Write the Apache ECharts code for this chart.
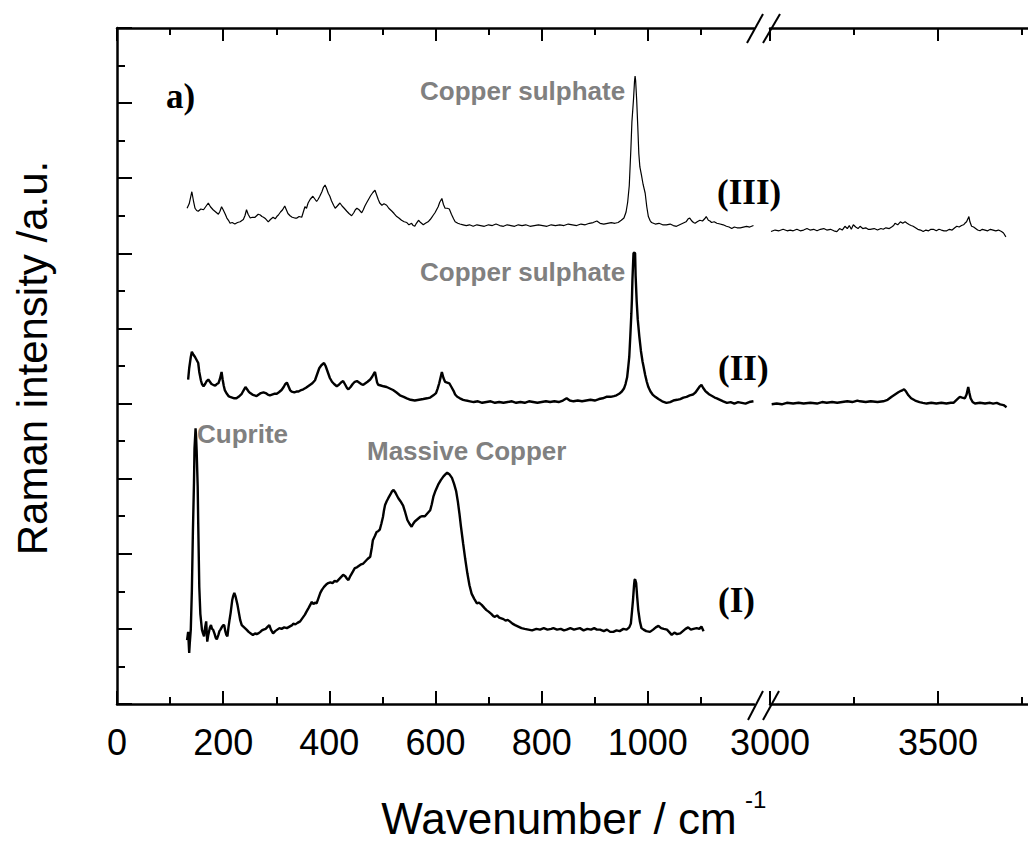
<!DOCTYPE html>
<html>
<head>
<meta charset="utf-8">
<title>Raman spectra</title>
<script src="https://cdn.jsdelivr.net/npm/echarts@6.0.0/dist/echarts.min.js"></script>
<style>
  html, body { margin: 0; padding: 0; background: #ffffff; }
  #chart { width: 1028px; height: 843px; }
</style>
</head>
<body>
<div id="chart"></div>
<script>
// ---------- tick labels ----------
const lowTickLabels = [0, 200, 400, 600, 800, 1000];
const highTickLabels = [3000, 3500];

// ---------- curve labels / annotations ----------
const curveNames = ['(I)', '(II)', '(III)'];
const bandNames = ['Cuprite', 'Massive Copper', 'Copper sulphate', 'Copper sulphate'];

// ---------- spectrum (III): [wavenumber, intensity] ----------
const seriesIIILow = [[132,6.60],[136,6.66],[141,6.82],[144,6.70],[147,6.60],[150,6.57],[153,6.56],[158,6.59],[163,6.58],[167,6.62],[172,6.67],[176,6.62],[181,6.58],[186,6.55],[191,6.52],[194,6.56],[197,6.62],[200,6.58],[204,6.52],[207,6.47],[210,6.44],[213,6.40],[217,6.41],[222,6.39],[227,6.41],[232,6.42],[236,6.44],[238,6.45],[241,6.50],[244,6.58],[247,6.52],[251,6.47],[255,6.48],[260,6.48],[263,6.50],[266,6.52],[270,6.51],[273,6.49],[276,6.48],[280,6.46],[285,6.42],[289,6.45],[294,6.48],[298,6.46],[301,6.49],[304,6.51],[308,6.55],[312,6.58],[316,6.63],[319,6.58],[322,6.53],[326,6.50],[330,6.48],[335,6.47],[339,6.47],[343,6.49],[348,6.48],[351,6.55],[354,6.62],[357,6.60],[360,6.67],[364,6.72],[369,6.76],[372,6.73],[376,6.69],[379,6.72],[382,6.76],[386,6.82],[389,6.88],[392,6.91],[395,6.86],[398,6.80],[401,6.76],[404,6.70],[408,6.64],[411,6.60],[415,6.63],[420,6.67],[424,6.63],[428,6.60],[433,6.56],[437,6.53],[442,6.50],[446,6.54],[449,6.58],[452,6.60],[456,6.58],[461,6.54],[464,6.58],[467,6.63],[470,6.67],[474,6.72],[478,6.77],[482,6.81],[486,6.84],[489,6.78],[492,6.72],[495,6.67],[499,6.64],[503,6.66],[508,6.64],[512,6.60],[518,6.56],[522,6.53],[527,6.49],[531,6.47],[536,6.44],[541,6.42],[546,6.41],[550,6.38],[555,6.40],[558,6.37],[561,6.36],[564,6.40],[568,6.44],[572,6.41],[577,6.38],[581,6.40],[586,6.42],[590,6.45],[593,6.48],[596,6.51],[599,6.54],[602,6.58],[605,6.62],[608,6.68],[612,6.73],[615,6.65],[618,6.60],[622,6.60],[626,6.59],[630,6.52],[634,6.46],[637,6.42],[642,6.40],[646,6.39],[652,6.38],[658,6.37],[664,6.38],[671,6.36],[678,6.38],[685,6.37],[692,6.36],[700,6.38],[707,6.37],[714,6.39],[721,6.37],[728,6.36],[735,6.38],[742,6.37],[749,6.36],[756,6.38],[763,6.37],[770,6.38],[778,6.36],[786,6.37],[794,6.38],[802,6.37],[810,6.36],[818,6.38],[826,6.37],[834,6.38],[842,6.37],[850,6.39],[858,6.38],[866,6.37],[874,6.39],[882,6.38],[890,6.40],[897,6.41],[904,6.43],[910,6.40],[917,6.39],[924,6.40],[931,6.41],[938,6.40],[944,6.41],[950,6.44],[955,6.47],[959,6.55],[962,6.68],[965,6.90],[968,7.38],[970,7.75],[973,8.05],[975,8.30],[976,8.36],[977,8.30],[979,8.04],[981,7.70],[983,7.33],[985,7.15],[988,7.04],[991,6.92],[995,6.80],[998,6.62],[1001,6.49],[1004,6.44],[1007,6.41],[1014,6.39],[1021,6.40],[1028,6.38],[1035,6.38],[1042,6.39],[1048,6.37],[1054,6.36],[1060,6.38],[1066,6.40],[1072,6.42],[1076,6.46],[1079,6.47],[1083,6.43],[1086,6.41],[1089,6.40],[1093,6.42],[1098,6.44],[1103,6.43],[1107,6.46],[1110,6.49],[1114,6.44],[1117,6.43],[1120,6.41],[1125,6.42],[1130,6.40],[1136,6.39],[1142,6.38],[1148,6.36],[1153,6.35],[1158,6.33],[1163,6.35],[1168,6.34],[1174,6.34],[1180,6.35],[1186,6.36],[1192,6.35],[1199,6.37]];
const seriesIIIHigh = [[3003,6.29],[3015,6.31],[3027,6.30],[3039,6.32],[3051,6.30],[3060,6.31],[3069,6.30],[3080,6.32],[3090,6.30],[3100,6.31],[3110,6.33],[3119,6.31],[3130,6.32],[3140,6.30],[3150,6.32],[3160,6.33],[3169,6.31],[3180,6.32],[3190,6.30],[3199,6.29],[3207,6.33],[3215,6.31],[3223,6.36],[3230,6.33],[3236,6.37],[3242,6.32],[3248,6.38],[3255,6.35],[3262,6.33],[3268,6.36],[3276,6.33],[3285,6.34],[3292,6.32],[3298,6.32],[3310,6.33],[3320,6.31],[3330,6.33],[3337,6.32],[3345,6.34],[3355,6.33],[3362,6.35],[3368,6.37],[3372,6.40],[3380,6.38],[3388,6.42],[3395,6.40],[3402,6.42],[3408,6.40],[3415,6.38],[3420,6.37],[3426,6.36],[3433,6.34],[3440,6.32],[3448,6.31],[3456,6.29],[3464,6.31],[3472,6.30],[3479,6.32],[3486,6.32],[3495,6.30],[3503,6.32],[3510,6.31],[3518,6.30],[3526,6.30],[3534,6.32],[3542,6.31],[3550,6.34],[3556,6.36],[3563,6.35],[3570,6.37],[3576,6.38],[3580,6.40],[3585,6.42],[3588,6.45],[3592,6.49],[3595,6.42],[3600,6.36],[3606,6.35],[3612,6.33],[3618,6.31],[3625,6.30],[3632,6.32],[3640,6.31],[3648,6.30],[3656,6.32],[3664,6.31],[3672,6.30],[3680,6.31],[3689,6.29],[3695,6.27],[3702,6.22]];

// ---------- spectrum (II) ----------
const seriesIILow = [[134,4.32],[136,4.47],[139,4.62],[141,4.69],[144,4.65],[147,4.62],[150,4.58],[153,4.54],[155,4.42],[158,4.31],[160,4.26],[163,4.23],[166,4.26],[169,4.30],[172,4.32],[175,4.29],[178,4.26],[181,4.25],[185,4.24],[188,4.26],[191,4.27],[194,4.33],[197,4.42],[199,4.32],[201,4.24],[203,4.18],[207,4.13],[210,4.10],[213,4.09],[217,4.08],[221,4.07],[225,4.07],[229,4.09],[232,4.11],[235,4.13],[238,4.17],[242,4.22],[245,4.19],[248,4.16],[251,4.14],[255,4.12],[259,4.11],[263,4.10],[267,4.12],[271,4.14],[276,4.15],[280,4.14],[284,4.12],[288,4.11],[292,4.12],[296,4.13],[301,4.13],[305,4.15],[310,4.18],[314,4.22],[317,4.26],[320,4.28],[323,4.23],[326,4.18],[329,4.16],[334,4.15],[338,4.16],[342,4.16],[347,4.18],[351,4.19],[356,4.21],[360,4.23],[364,4.25],[368,4.27],[373,4.31],[377,4.39],[381,4.47],[385,4.51],[390,4.54],[393,4.50],[396,4.44],[398,4.40],[401,4.34],[405,4.29],[409,4.26],[414,4.23],[418,4.25],[422,4.28],[426,4.30],[430,4.25],[433,4.21],[436,4.19],[440,4.22],[444,4.26],[448,4.29],[452,4.30],[456,4.28],[460,4.26],[464,4.25],[468,4.27],[472,4.29],[477,4.32],[481,4.36],[484,4.40],[486,4.42],[488,4.35],[490,4.28],[492,4.25],[497,4.24],[502,4.23],[508,4.22],[514,4.20],[520,4.18],[526,4.15],[533,4.11],[540,4.09],[546,4.07],[553,4.05],[561,4.04],[569,4.05],[577,4.06],[584,4.07],[590,4.08],[596,4.11],[601,4.14],[604,4.20],[607,4.27],[610,4.36],[612,4.42],[615,4.34],[618,4.29],[622,4.28],[626,4.27],[630,4.22],[634,4.17],[637,4.12],[641,4.09],[646,4.07],[652,4.05],[658,4.04],[665,4.03],[672,4.02],[680,4.03],[688,4.01],[696,4.02],[704,4.03],[712,4.01],[720,4.02],[728,4.01],[736,4.02],[744,4.03],[752,4.01],[760,4.02],[768,4.01],[776,4.03],[784,4.02],[792,4.01],[800,4.02],[808,4.03],[816,4.02],[824,4.03],[832,4.02],[840,4.04],[847,4.07],[853,4.04],[860,4.03],[868,4.04],[876,4.03],[884,4.04],[892,4.05],[900,4.04],[908,4.06],[915,4.07],[922,4.09],[930,4.09],[936,4.10],[941,4.11],[946,4.13],[951,4.16],[955,4.20],[958,4.26],[961,4.35],[963,4.48],[965,4.62],[967,4.90],[969,5.20],[970,5.38],[971,5.65],[973,6.00],[975,6.01],[976,6.00],[977,5.70],[979,5.36],[981,5.12],[984,4.89],[987,4.70],[990,4.56],[992,4.49],[995,4.38],[998,4.29],[1001,4.22],[1005,4.16],[1009,4.12],[1014,4.09],[1020,4.06],[1027,4.03],[1035,4.01],[1042,4.02],[1048,4.04],[1055,4.05],[1061,4.06],[1067,4.08],[1073,4.09],[1079,4.11],[1085,4.12],[1090,4.15],[1094,4.19],[1098,4.23],[1101,4.25],[1104,4.21],[1108,4.17],[1111,4.15],[1116,4.12],[1121,4.10],[1126,4.08],[1130,4.07],[1136,4.05],[1142,4.03],[1149,4.01],[1156,4.02],[1163,4.00],[1170,4.02],[1177,4.01],[1184,4.00],[1191,4.02],[1199,4.03]];
const seriesIIHigh = [[3005,3.99],[3020,4.00],[3035,3.99],[3050,4.01],[3069,4.00],[3085,4.01],[3100,4.00],[3120,4.01],[3140,4.00],[3155,4.02],[3169,4.01],[3185,4.02],[3200,4.01],[3215,4.02],[3230,4.03],[3245,4.02],[3260,4.04],[3268,4.03],[3285,4.02],[3300,4.03],[3320,4.02],[3337,4.03],[3350,4.05],[3362,4.09],[3372,4.12],[3382,4.15],[3390,4.17],[3395,4.18],[3399,4.19],[3405,4.16],[3412,4.11],[3420,4.07],[3432,4.04],[3445,4.02],[3455,4.01],[3466,4.00],[3480,4.01],[3495,4.00],[3510,4.01],[3525,4.00],[3538,4.01],[3546,4.01],[3553,4.04],[3560,4.07],[3565,4.09],[3572,4.08],[3580,4.07],[3585,4.12],[3590,4.22],[3593,4.15],[3597,4.07],[3603,4.02],[3610,4.00],[3625,4.01],[3640,4.00],[3655,4.01],[3664,4.00],[3675,4.01],[3685,3.99],[3695,3.98],[3704,3.95]];

// ---------- spectrum (I) ----------
const seriesILow = [[132,0.85],[134,0.96],[136,0.68],[137,0.80],[139,0.99],[141,1.50],[143,2.30],[145,2.94],[146,3.40],[148,3.67],[149,3.55],[150,3.38],[152,2.90],[153,2.41],[155,1.56],[157,1.20],[160,0.99],[162,0.94],[164,0.90],[166,1.02],[168,1.10],[170,0.83],[172,0.92],[175,1.02],[177,1.05],[179,1.00],[181,0.99],[184,0.93],[186,0.88],[188,0.86],[191,0.92],[193,0.97],[195,0.99],[198,1.03],[200,1.05],[202,1.05],[204,0.97],[206,0.92],[208,0.90],[210,1.02],[212,1.12],[214,1.21],[217,1.38],[219,1.44],[221,1.48],[223,1.44],[225,1.38],[227,1.32],[230,1.20],[232,1.12],[235,1.05],[238,1.03],[241,1.01],[244,0.99],[248,0.96],[252,0.94],[256,0.92],[260,0.94],[263,0.93],[266,0.94],[270,0.96],[273,0.98],[276,0.99],[280,1.00],[284,1.03],[287,1.05],[290,0.99],[294,0.94],[298,0.97],[302,0.99],[306,1.01],[310,1.00],[315,1.02],[320,1.01],[325,1.03],[330,1.05],[332,1.07],[336,1.06],[340,1.08],[345,1.10],[350,1.15],[354,1.19],[357,1.23],[361,1.28],[364,1.32],[367,1.36],[370,1.33],[373,1.35],[376,1.34],[380,1.42],[383,1.48],[386,1.52],[390,1.56],[394,1.59],[398,1.61],[402,1.62],[406,1.61],[410,1.64],[414,1.63],[418,1.66],[422,1.69],[426,1.72],[430,1.70],[433,1.67],[436,1.65],[440,1.71],[444,1.76],[448,1.81],[452,1.82],[456,1.84],[460,1.86],[464,1.87],[468,1.90],[472,1.93],[477,1.96],[480,2.08],[482,2.18],[486,2.24],[489,2.29],[492,2.30],[495,2.32],[498,2.40],[501,2.49],[503,2.58],[505,2.65],[508,2.70],[511,2.74],[515,2.79],[518,2.83],[521,2.85],[524,2.82],[527,2.78],[530,2.74],[534,2.70],[539,2.64],[543,2.55],[547,2.45],[551,2.40],[555,2.36],[558,2.40],[561,2.43],[566,2.46],[571,2.49],[575,2.50],[580,2.50],[585,2.54],[590,2.58],[593,2.66],[596,2.76],[600,2.84],[605,2.92],[610,2.98],[615,3.03],[619,3.06],[622,3.08],[626,3.06],[631,3.01],[635,2.93],[639,2.83],[642,2.70],[645,2.54],[648,2.36],[652,2.14],[656,1.93],[660,1.74],[664,1.58],[668,1.47],[673,1.40],[678,1.34],[682,1.35],[687,1.32],[692,1.28],[696,1.25],[700,1.23],[705,1.20],[709,1.17],[712,1.16],[716,1.18],[720,1.15],[724,1.14],[728,1.13],[732,1.11],[736,1.12],[740,1.10],[745,1.07],[750,1.05],[756,1.03],[762,1.01],[768,1.00],[775,0.99],[782,0.98],[790,1.00],[797,0.99],[804,1.01],[811,0.99],[818,1.00],[822,1.01],[829,0.99],[836,1.00],[842,0.98],[847,0.99],[854,1.01],[861,0.99],[866,1.00],[872,1.01],[879,0.98],[886,1.00],[893,0.99],[899,1.01],[904,0.99],[910,0.99],[917,0.97],[923,0.99],[929,0.96],[935,0.96],[941,0.98],[947,0.97],[954,1.00],[960,0.99],[965,1.02],[968,1.07],[970,1.22],[972,1.38],[974,1.58],[975,1.65],[976,1.66],[978,1.61],[980,1.42],[982,1.25],[985,1.10],[988,1.01],[992,0.99],[997,0.97],[1004,0.96],[1010,0.99],[1015,1.02],[1020,1.04],[1025,1.01],[1030,1.00],[1036,0.99],[1040,0.96],[1045,0.92],[1050,0.95],[1055,0.93],[1061,0.94],[1066,0.97],[1071,1.00],[1076,1.02],[1081,0.99],[1086,1.00],[1092,1.01],[1097,1.00],[1101,1.03],[1105,0.97]];

// ---------- build chart ----------
const SANS = '"Liberation Sans", Arial, sans-serif';
const SERIF = '"Liberation Serif", "Times New Roman", serif';
const BLACK = '#000000';
const GREY = '#808080';

const chart = echarts.init(document.getElementById('chart'), null, { renderer: 'svg' });

function xAxisCfg(gridIndex, pos, min, max, interval, labelValues, showLabel) {
  return {
    type: 'value', gridIndex: gridIndex, position: pos, min: min, max: max, interval: interval,
    axisLine: { show: true, onZero: false, lineStyle: { color: BLACK, width: 2.5 } },
    axisTick: { show: true, inside: true, length: 13, customValues: labelValues, lineStyle: { color: BLACK, width: 2 } },
    minorTick: { show: true, splitNumber: 2, length: 7, lineStyle: { color: BLACK, width: 2 } },
    axisLabel: {
      show: showLabel, customValues: labelValues, margin: 20, fontSize: 36, color: BLACK, fontFamily: SANS,
      formatter: function (v) { return String(v); }
    },
    splitLine: { show: false }, minorSplitLine: { show: false }
  };
}

const option = {
  animation: false,
  backgroundColor: '#ffffff',
  grid: [
    { left: 117, top: 28, width: 637, height: 676, outerBoundsMode: 'none', containLabel: false },
    { left: 770, top: 28, width: 336, height: 676, outerBoundsMode: 'none', containLabel: false }
  ],
  xAxis: [
    xAxisCfg(0, 'bottom', 0, 1200, 200, lowTickLabels, true),
    xAxisCfg(0, 'top', 0, 1200, 200, lowTickLabels, false),
    xAxisCfg(1, 'bottom', 3000, 4000, 500, highTickLabels, true),
    xAxisCfg(1, 'top', 3000, 4000, 500, highTickLabels, false)
  ],
  yAxis: [
    {
      type: 'value', gridIndex: 0, min: 0, max: 9, interval: 1,
      axisLine: { show: true, onZero: false, lineStyle: { color: BLACK, width: 2.5 } },
      axisTick: { show: true, inside: true, length: 15, lineStyle: { color: BLACK, width: 2 } },
      minorTick: { show: true, splitNumber: 2, length: 8, lineStyle: { color: BLACK, width: 2 } },
      axisLabel: { show: false },
      splitLine: { show: false }, minorSplitLine: { show: false }
    },
    { type: 'value', gridIndex: 1, min: 0, max: 9, interval: 1, show: false }
  ],
  series: [
    { name: curveNames[2], type: 'line', xAxisIndex: 0, yAxisIndex: 0, data: seriesIIILow, showSymbol: false, lineStyle: { color: BLACK, width: 1.2 } },
    { name: curveNames[2], type: 'line', xAxisIndex: 2, yAxisIndex: 1, data: seriesIIIHigh, showSymbol: false, lineStyle: { color: BLACK, width: 1.2 } },
    { name: curveNames[1], type: 'line', xAxisIndex: 0, yAxisIndex: 0, data: seriesIILow, showSymbol: false, lineStyle: { color: BLACK, width: 2.4 } },
    { name: curveNames[1], type: 'line', xAxisIndex: 2, yAxisIndex: 1, data: seriesIIHigh, showSymbol: false, lineStyle: { color: BLACK, width: 2.4 } },
    { name: curveNames[0], type: 'line', xAxisIndex: 0, yAxisIndex: 0, data: seriesILow, showSymbol: false, lineStyle: { color: BLACK, width: 2.4 } }
  ],
  graphic: [
    // axis break marks
    { type: 'line', shape: { x1: 747, y1: 43, x2: 763, y2: 14 }, style: { stroke: BLACK, lineWidth: 2 } },
    { type: 'line', shape: { x1: 763, y1: 43, x2: 780, y2: 14 }, style: { stroke: BLACK, lineWidth: 2 } },
    { type: 'line', shape: { x1: 748, y1: 720, x2: 763, y2: 691 }, style: { stroke: BLACK, lineWidth: 2 } },
    { type: 'line', shape: { x1: 763, y1: 720, x2: 779, y2: 691 }, style: { stroke: BLACK, lineWidth: 2 } },
    // axis titles
    { type: 'text', x: 32, y: 358, rotation: Math.PI / 2,
      style: { text: 'Raman intensity /a.u.', font: '42px ' + SANS, fill: BLACK, textAlign: 'center', textVerticalAlign: 'middle' } },
    { type: 'text', x: 559, y: 818,
      style: { text: 'Wavenumber / cm', font: '44px ' + SANS, fill: BLACK, textAlign: 'center', textVerticalAlign: 'middle' } },
    { type: 'text', x: 745, y: 799,
      style: { text: '-1', font: '24px ' + SANS, fill: BLACK, textAlign: 'left', textVerticalAlign: 'middle' } },
    // panel label
    { type: 'text', x: 166, y: 96,
      style: { text: 'a)', font: 'bold 35px ' + SERIF, fill: BLACK, textAlign: 'left', textVerticalAlign: 'middle' } },
    // band annotations
    { type: 'text', x: 197, y: 434,
      style: { text: bandNames[0], font: 'bold 26px ' + SANS, fill: GREY, textAlign: 'left', textVerticalAlign: 'middle' } },
    { type: 'text', x: 367, y: 451,
      style: { text: bandNames[1], font: 'bold 26px ' + SANS, fill: GREY, textAlign: 'left', textVerticalAlign: 'middle' } },
    { type: 'text', x: 420, y: 91,
      style: { text: bandNames[2], font: 'bold 26px ' + SANS, fill: GREY, textAlign: 'left', textVerticalAlign: 'middle' } },
    { type: 'text', x: 420, y: 272,
      style: { text: bandNames[3], font: 'bold 26px ' + SANS, fill: GREY, textAlign: 'left', textVerticalAlign: 'middle' } },
    // curve labels
    { type: 'text', x: 717, y: 192,
      style: { text: curveNames[2], font: 'bold 35px ' + SERIF, fill: BLACK, textAlign: 'left', textVerticalAlign: 'middle' } },
    { type: 'text', x: 718, y: 368,
      style: { text: curveNames[1], font: 'bold 35px ' + SERIF, fill: BLACK, textAlign: 'left', textVerticalAlign: 'middle' } },
    { type: 'text', x: 718, y: 600,
      style: { text: curveNames[0], font: 'bold 35px ' + SERIF, fill: BLACK, textAlign: 'left', textVerticalAlign: 'middle' } }
  ]
};
chart.setOption(option);
</script>
</body>
</html>
